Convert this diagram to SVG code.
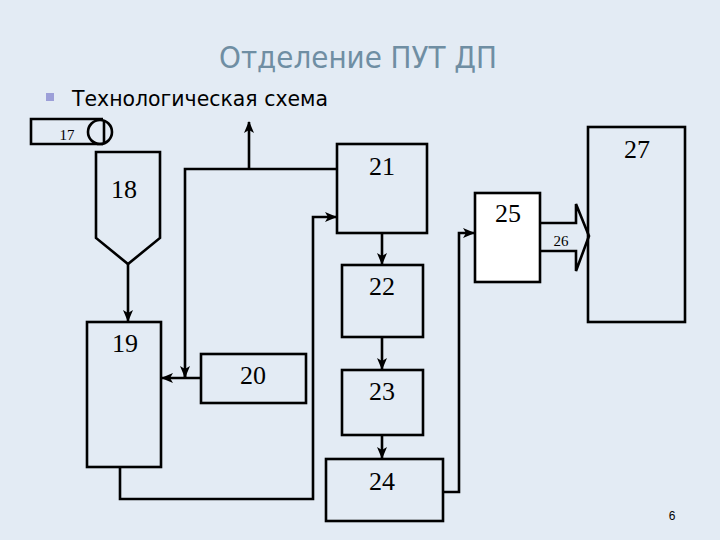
<svg xmlns="http://www.w3.org/2000/svg" width="720" height="540" viewBox="0 0 720 540">
<style>
.b{fill:none;stroke:#000;stroke-width:2.6}
.w{fill:#fff;stroke:#000;stroke-width:2.6}
.c{fill:none;stroke:#000;stroke-width:2.6}
.n{font-family:"Liberation Serif",serif;font-size:26px;fill:#000;text-anchor:middle}
.s{font-family:"Liberation Serif",serif;font-size:15px;fill:#000;text-anchor:middle}
</style>
<defs>
<marker id="a" viewBox="0 0 12 10" refX="11" refY="5" markerWidth="12" markerHeight="10" markerUnits="userSpaceOnUse" orient="auto">
<path d="M0,0 L12,5 L0,10 L3,5 Z" fill="#000"/>
</marker>
</defs>
<rect width="720" height="540" fill="#e3ebf4"/>
<text x="358" y="68" font-family="'DejaVu Sans Condensed','DejaVu Sans',sans-serif" font-size="31" fill="#6f8ea3" text-anchor="middle" textLength="278" lengthAdjust="spacingAndGlyphs">Отделение ПУТ ДП</text>
<rect x="46" y="93" width="8" height="8" fill="#9c9fd8"/>
<text x="72" y="106" font-family="'DejaVu Sans Condensed','DejaVu Sans',sans-serif" font-size="22" fill="#000" textLength="256" lengthAdjust="spacingAndGlyphs">Технологическая схема</text>
<g id="connectors">
<path class="c" d="M249,169 V122" marker-end="url(#a)"/>
<path class="c" d="M337,169 H185 V377"/>
<path class="c" d="M185,368 V377" marker-end="url(#a)"/>
<path class="c" d="M201,378 H162" marker-end="url(#a)"/>
<path class="c" d="M128,264 V321" marker-end="url(#a)"/>
<path class="c" d="M120,467 V499 H313 V217 H336" marker-end="url(#a)"/>
<path class="c" d="M382,233 V264" marker-end="url(#a)"/>
<path class="c" d="M382,337 V369" marker-end="url(#a)"/>
<path class="c" d="M382,435 V458" marker-end="url(#a)"/>
<path class="c" d="M443,492 H459 V233 H474" marker-end="url(#a)"/>
</g>
<g id="n17">
<path class="b" d="M103,119 H31 V144 H103"/>
<circle class="b" cx="100" cy="132" r="12"/>
<line class="b" x1="104" y1="120" x2="104" y2="144"/>
<text class="s" x="67" y="140">17</text>
</g>
<g id="n18">
<path class="b" d="M96,152 H160 V238 L128,264 L96,238 Z"/>
<text class="n" x="124" y="198">18</text>
</g>
<g id="n19">
<rect class="b" x="87" y="322" width="74" height="145"/>
<text class="n" x="125" y="352">19</text>
</g>
<g id="n20">
<rect class="b" x="201" y="354" width="105" height="49"/>
<text class="n" x="253" y="384">20</text>
</g>
<g id="n21">
<rect class="b" x="337" y="144" width="90" height="89"/>
<text class="n" x="382" y="175">21</text>
</g>
<g id="n22">
<rect class="b" x="342" y="265" width="81" height="72"/>
<text class="n" x="382" y="295">22</text>
</g>
<g id="n23">
<rect class="b" x="342" y="370" width="81" height="65"/>
<text class="n" x="382" y="400">23</text>
</g>
<g id="n24">
<rect class="b" x="326" y="459" width="117" height="62"/>
<text class="n" x="382" y="490">24</text>
</g>
<g id="n25">
<rect class="w" x="475" y="193" width="65" height="89"/>
<text class="n" x="508" y="222">25</text>
</g>
<g id="n26">
<path class="b" d="M540,223 H576 V204 L589,236 L576,271 V251 H540"/>
<text class="s" x="561" y="246">26</text>
</g>
<g id="n27">
<rect class="b" x="588" y="127" width="97" height="195"/>
<text class="n" x="637" y="158">27</text>
</g>
<text x="672" y="520" font-family="'Liberation Sans',sans-serif" font-size="12" fill="#000" text-anchor="middle">6</text>
</svg>
